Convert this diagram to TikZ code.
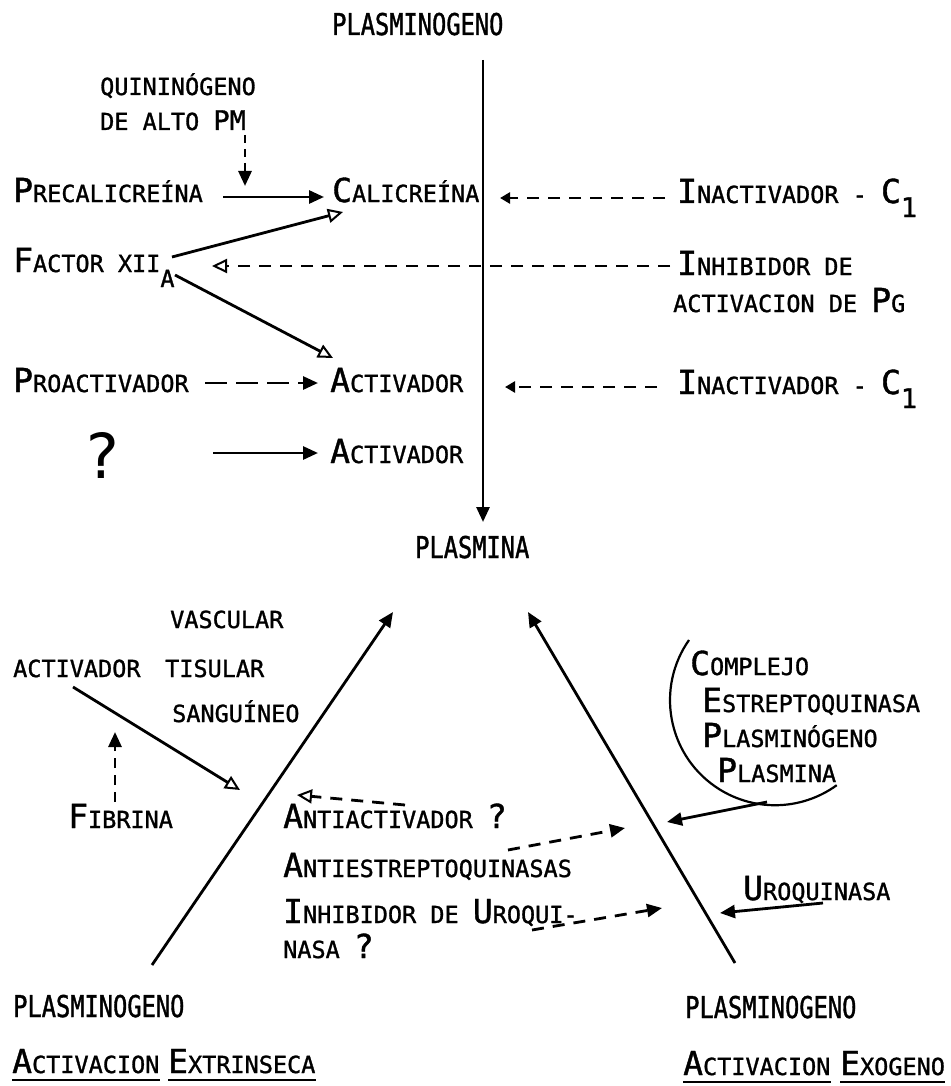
\documentclass[tikz,border=0pt]{standalone}
\usepackage{fontspec}
\usetikzlibrary{arrows.meta}
\newfontfamily\lettering[FakeBold=1.2]{DejaVu Sans Mono}
\newfontfamily\letteringthin{DejaVu Sans Mono}
\newfontfamily\letteringnarrow[FakeStretch=0.79,FakeBold=1.2]{DejaVu Sans Mono}
% lettering-guide sizes: tall initials, small capitals, condensed titles
\newcommand{\inicial}{\fontsize{33}{33}\selectfont}
\newcommand{\versal}{\fontsize{23.5}{23.5}\selectfont}
\newcommand{\vs}[2]{{\inicial #1}{\versal #2}}
\newcommand{\titulo}{\letteringnarrow\fontsize{30}{30}\selectfont}
\newcommand{\subind}[1]{\raisebox{-14pt}{\fontsize{27}{27}\selectfont #1}}
\newcommand{\preg}{{\inicial ?}}

\tikzset{
  txt/.style={inner sep=0pt, anchor=base west, font=\lettering\versal},
  ttl/.style={inner sep=0pt, anchor=base west, font=\titulo},
  conn/.style={line width=2.8pt},
  dsh/.style={conn, dash pattern=on 12pt off 9pt},
  dshlong/.style={conn, dash pattern=on 22pt off 9pt},
  tipf/.style={-{Triangle[length=15pt,width=13pt]}},
  tips/.style={-{Triangle[length=10pt,width=11pt]}},
  tipo/.style={-{Triangle[open,length=15pt,width=14pt,line width=2pt]}},
  uline/.style={line width=2.6pt},
}

\begin{document}
\begin{tikzpicture}[x=1pt,y=-1pt]
\useasboundingbox[fill=white] (0,0) rectangle (950,1086);

% ---------- intrinsic activation (upper part) ----------
\node[ttl] (pgtop) at (332,35) {PLASMINOGENO};
\node[txt] (quin) at (100,95) {QUININÓGENO};
\node[txt] (alto) at (100,130) {DE ALTO {\fontsize{27}{27}\selectfont PM}};
\node[txt] (precal) at (13,202) {\vs{P}{RECALICREÍNA}};
\node[txt] (cal) at (332,202) {\vs{C}{ALICREÍNA}};
\node[txt] (inact1) at (677,203) {\vs{I}{NACTIVADOR - }{\inicial C}\subind{1}};
\node[txt] (fxii) at (13,272) {\vs{F}{ACTOR XII}\raisebox{-15pt}{A}};
\node[txt] (inhib) at (677,275) {\vs{I}{NHIBIDOR DE}};
\node[txt] (activpg) at (673,312) {ACTIVACION DE {\inicial P}G};
\node[txt] (proact) at (13,392) {\vs{P}{ROACTIVADOR}};
\node[txt] (act1) at (330,392) {\vs{A}{CTIVADOR}};
\node[txt] (inact2) at (677,394) {\vs{I}{NACTIVADOR - }{\inicial C}\subind{1}};
\node[txt, font=\letteringthin\fontsize{62}{62}\selectfont] (quest) at (83,478) {?};
\node[txt] (act2) at (330,463) {\vs{A}{CTIVADOR}};
\node[ttl] (plasmina) at (415,558) {PLASMINA};

% main conversion axis
\coordinate (vtop) at (483,60);
\coordinate (vbot) at (483,522);
\draw[conn,tipf] (vtop) -- (vbot);

% connector end points
\coordinate (quinA) at (245,135);
\coordinate (quinB) at (245,186);
\coordinate (precalA) at (223,197);
\coordinate (calB) at (324,197);
\coordinate (fxiiA) at (172,257);
\coordinate (calC) at (343,212);
\coordinate (fxiiB) at (175,275);
\coordinate (act1A) at (333,358);
\coordinate (inact1A) at (665,198);
\coordinate (axisA) at (500,198);
\coordinate (inhibA) at (670,266);
\coordinate (fxiiC) at (212,266);
\coordinate (proactA) at (205,383);
\coordinate (act1B) at (318,383);
\coordinate (questA) at (213,453);
\coordinate (act2A) at (318,453);
\coordinate (inact2A) at (657,387);
\coordinate (axisB) at (505,387);

\draw[conn,dash pattern=on 8pt off 6pt,tipf] (quinA) -- (quinB);
\draw[conn,tipf] (precalA) -- (calB);
\draw[conn,tipo] (fxiiA) -- (calC);
\draw[conn,tipo] (fxiiB) -- (act1A);
\draw[dsh,tips] (inact1A) -- (axisA);
\draw[dsh,tipo] (inhibA) -- (fxiiC);
\draw[dshlong,tipf] (proactA) -- (act1B);
\draw[conn,tipf] (questA) -- (act2A);
\draw[dsh,tips] (inact2A) -- (axisB);

% ---------- extrinsic and exogenous activation (lower part) ----------
\node[txt] (vasc) at (170,628) {VASCULAR};
\node[txt] (acttis) at (13,677) {ACTIVADOR};
\node[txt] (tis) at (165,677) {TISULAR};
\node[txt] (sang) at (172,722) {SANGUÍNEO};
\node[txt] (fib) at (68,828) {\vs{F}{IBRINA}};

\node[txt] (compl) at (690,675) {\vs{C}{OMPLEJO}};
\node[txt] (estr) at (702,712) {\vs{E}{STREPTOQUINASA}};
\node[txt] (pgno) at (702,747) {\vs{P}{LASMINÓGENO}};
\node[txt] (pmna) at (717,782) {\vs{P}{LASMINA}};

\node[txt] (antiact) at (283,828) {\vs{A}{NTIACTIVADOR }\preg};
\node[txt] (antiestr) at (283,877) {\vs{A}{NTIESTREPTOQUINASAS}};
\node[txt] (inhuro) at (283,923) {\vs{I}{NHIBIDOR DE }\vs{U}{ROQUI-}};
\node[txt] (nasa) at (283,958) {NASA \preg};
\node[txt] (uro) at (743,900) {\vs{U}{ROQUINASA}};

\node[ttl] (pgleft) at (13,1017) {PLASMINOGENO};
\node[txt] (w1) at (12,1073) {\vs{A}{CTIVACION}};
\node[txt] (w2) at (168,1073) {\vs{E}{XTRINSECA}};
\node[ttl] (pgright) at (685,1018) {PLASMINOGENO};
\node[txt] (w3) at (683,1075) {\vs{A}{CTIVACION}};
\node[txt] (w4) at (840,1075) {\vs{E}{XOGENO}};

\draw[uline] ([yshift=-7pt]w1.base west) -- ([yshift=-7pt]w1.base east);
\draw[uline] ([yshift=-7pt]w2.base west) -- ([yshift=-7pt]w2.base east);
\draw[uline] ([yshift=-7pt]w3.base west) -- ([yshift=-7pt]w3.base east);
\draw[uline] ([yshift=-7pt]w4.base west) -- ([yshift=-7pt]w4.base east);

% the two activation branches leading up to plasmin
\coordinate (leftfoot) at (152,965);
\coordinate (lefthead) at (393,612);
\coordinate (rightfoot) at (735,963);
\coordinate (righthead) at (528,612);
\draw[conn,tipf] (leftfoot) -- (lefthead);
\draw[conn,tipf] (rightfoot) -- (righthead);

\coordinate (acttisA) at (73,687);
\coordinate (leftbranch) at (240,790);
\coordinate (fibA) at (115,802);
\coordinate (fibB) at (115,732);
\coordinate (antiactA) at (405,805);
\coordinate (antiactB) at (297,795);
\coordinate (antiestrA) at (508,850);
\coordinate (rightbranchA) at (625,828);
\coordinate (inhuroA) at (532,930);
\coordinate (rightbranchB) at (662,908);
\coordinate (complA) at (767,802);
\coordinate (rightbranchC) at (667,822);
\coordinate (uroA) at (823,903);
\coordinate (rightbranchD) at (720,913);

\draw[conn,tipo] (acttisA) -- (leftbranch);
\draw[conn,dash pattern=on 10pt off 7pt,tipf] (fibA) -- (fibB);
\draw[dsh,tipo] (antiactA) -- (antiactB);
\draw[dsh,tipf] (antiestrA) -- (rightbranchA);
\draw[dsh,tipf] (inhuroA) -- (rightbranchB);
\draw[conn,tipf] (complA) -- (rightbranchC);
\draw[conn,tipf] (uroA) -- (rightbranchD);

% bracket round the streptokinase complex
\coordinate (arcstart) at (689,640);
\draw[line width=2.2pt] (arcstart) arc[start angle=145, end angle=306, radius=105pt];
\end{tikzpicture}
\end{document}
